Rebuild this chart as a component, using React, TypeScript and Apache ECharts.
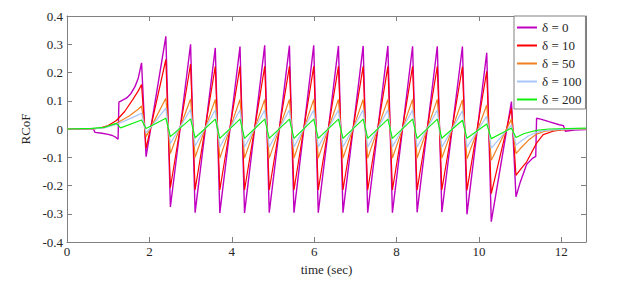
import React, { useEffect, useRef } from "react";
import * as echarts from "echarts";

// Shared cycle timing (seconds)
const peakTimes = [1.81, 2.4, 3.0, 3.6, 4.2, 4.8, 5.4, 5.99, 6.59, 7.19, 7.79, 8.39, 8.99, 9.6, 10.19, 10.79];
const troughTimes = [1.92, 2.51, 3.11, 3.71, 4.31, 4.91, 5.51, 6.1, 6.7, 7.3, 7.9, 8.5, 9.1, 9.71, 10.3, 10.9];

const seriesNames = ["δ = 0", "δ = 10", "δ = 50", "δ = 100", "δ = 200"];
const seriesColors = ["#c000c0", "#ff0000", "#f08020", "#a8c4f8", "#10f010"];

// δ = 0
const d0StartT = [0, 0.64, 0.68, 0.85, 1.0, 1.1, 1.18, 1.24, 1.26, 1.35, 1.45, 1.55, 1.65, 1.73];
const d0StartV = [0, 0, -0.012, -0.015, -0.019, -0.023, -0.029, -0.036, 0.095, 0.102, 0.11, 0.125, 0.15, 0.18];
const d0Peaks = [0.234, 0.328, 0.3, 0.287, 0.292, 0.296, 0.295, 0.296, 0.294, 0.294, 0.294, 0.293, 0.293, 0.292, 0.27, 0.097];
const d0Troughs = [-0.098, -0.276, -0.296, -0.297, -0.297, -0.296, -0.296, -0.296, -0.296, -0.296, -0.296, -0.295, -0.294, -0.302, -0.328, -0.24];
const d0EndT = [11.0, 11.16, 11.3, 11.38, 11.4, 11.5, 11.7, 11.95, 12.05, 12.1, 12.3, 12.6];
const d0EndV = [-0.19, -0.125, -0.104, -0.097, 0.038, 0.035, 0.026, 0.015, 0.012, -0.008, -0.004, -0.002];

// δ = 10
const d10StartT = [0, 0.6, 0.8, 1.0, 1.2, 1.4, 1.6, 1.73];
const d10StartV = [0, 0, 0.003, 0.012, 0.03, 0.062, 0.105, 0.135];
const d10Peaks = [0.157, 0.246, 0.23, 0.222, 0.222, 0.222, 0.222, 0.222, 0.222, 0.222, 0.222, 0.222, 0.222, 0.221, 0.204, 0.074];
const d10Troughs = [-0.069, -0.208, -0.215, -0.216, -0.216, -0.216, -0.216, -0.216, -0.216, -0.216, -0.216, -0.216, -0.216, -0.217, -0.229, -0.164];
const d10EndT = [11.0, 11.16, 11.4, 11.56, 11.8, 12.0, 12.6];
const d10EndV = [-0.145, -0.116, -0.05, -0.02, -0.008, -0.003, 0];

// δ = 50
const d50StartT = [0, 0.6, 0.9, 1.2, 1.5, 1.73];
const d50StartV = [0, 0, 0.005, 0.02, 0.045, 0.07];
const d50Peaks = [0.082, 0.109, 0.106, 0.105, 0.105, 0.105, 0.105, 0.105, 0.105, 0.105, 0.105, 0.105, 0.105, 0.103, 0.085, 0.035];
const d50Troughs = [-0.027, -0.087, -0.1, -0.103, -0.103, -0.103, -0.103, -0.103, -0.103, -0.103, -0.103, -0.103, -0.103, -0.106, -0.111, -0.087];
const d50EndT = [11.0, 11.2, 11.4, 11.6, 12.0, 12.6];
const d50EndV = [-0.07, -0.04, -0.018, -0.008, -0.002, 0];

// δ = 100
const d100StartT = [0, 0.6, 0.9, 1.2, 1.5, 1.73];
const d100StartV = [0, 0, 0.004, 0.016, 0.035, 0.05];
const d100Peaks = [0.056, 0.074, 0.07, 0.067, 0.067, 0.067, 0.067, 0.067, 0.067, 0.067, 0.067, 0.067, 0.067, 0.064, 0.045, 0.014];
const d100Troughs = [-0.015, -0.051, -0.06, -0.064, -0.064, -0.064, -0.064, -0.064, -0.064, -0.064, -0.064, -0.064, -0.064, -0.064, -0.068, -0.057];
const d100EndT = [11.0, 11.2, 11.4, 11.6, 12.0, 12.6];
const d100EndV = [-0.045, -0.025, -0.012, -0.005, -0.001, 0];

// δ = 200
const d200StartT = [0, 0.6, 0.9, 1.2, 1.3];
const d200StartV = [0, 0.002, 0.006, 0.02, 0.004];
const d200Peaks = [0.032, 0.038, 0.036, 0.035, 0.035, 0.035, 0.035, 0.035, 0.035, 0.035, 0.035, 0.035, 0.035, 0.031, 0.018, 0.003];
const d200Troughs = [0.002, -0.027, -0.031, -0.033, -0.033, -0.033, -0.033, -0.033, -0.033, -0.033, -0.033, -0.033, -0.033, -0.033, -0.034, -0.03];
const d200EndT = [11.1, 11.4, 11.7, 12.6];
const d200EndV = [-0.016, -0.005, 0.0, 0.003];

const xTicks = [0, 2, 4, 6, 8, 10, 12];

function buildSeries(
  startT: number[], startV: number[], peaks: number[], troughs: number[], endT: number[], endV: number[]
): number[][] {
  const out: number[][] = [];
  startT.forEach((t, i) => out.push([t, startV[i]]));
  peakTimes.forEach((t, i) => {
    out.push([t, peaks[i]]);
    out.push([troughTimes[i], troughs[i]]);
  });
  endT.forEach((t, i) => out.push([t, endV[i]]));
  return out;
}

const FONT = "Liberation Serif";

export default function App() {
  const ref = useRef<HTMLDivElement>(null);
  useEffect(() => {
    if (!ref.current) return;
    const chart = echarts.init(ref.current, undefined, { renderer: "svg" });
    const datasets = [
      buildSeries(d0StartT, d0StartV, d0Peaks, d0Troughs, d0EndT, d0EndV),
      buildSeries(d10StartT, d10StartV, d10Peaks, d10Troughs, d10EndT, d10EndV),
      buildSeries(d50StartT, d50StartV, d50Peaks, d50Troughs, d50EndT, d50EndV),
      buildSeries(d100StartT, d100StartV, d100Peaks, d100Troughs, d100EndT, d100EndV),
      buildSeries(d200StartT, d200StartV, d200Peaks, d200Troughs, d200EndT, d200EndV),
    ];
    const axisLine = { show: true, onZero: false, lineStyle: { color: "#808080", width: 1 } };
    const tick = { show: true, inside: true, length: 5, lineStyle: { color: "#808080" } };
    chart.setOption({
      animation: false,
      backgroundColor: "#ffffff",
      textStyle: { fontFamily: FONT },
      grid: { left: 67, right: 42, top: 16, bottom: 49, containLabel: false },
      legend: {
        orient: "vertical",
        left: 514,
        top: 16,
        padding: [4, 4, 2, 3],
        itemGap: 3,
        itemWidth: 20,
        itemHeight: 2,
        icon: "rect",
        backgroundColor: "#ffffff",
        borderColor: "#808080",
        borderWidth: 1,
        borderRadius: 0,
        textStyle: { fontFamily: FONT, fontSize: 13, color: "#262626", lineHeight: 15 },
        data: seriesNames,
      },
      xAxis: [
        {
          type: "value",
          min: 0,
          max: 12.6,
          interval: 2,
          position: "bottom",
          name: "time (sec)",
          nameLocation: "middle",
          nameGap: 17,
          nameTextStyle: { fontFamily: FONT, fontSize: 13, color: "#262626" },
          axisLine,
          axisTick: tick,
          splitLine: { show: false },
          axisLabel: {
            fontFamily: FONT,
            fontSize: 13,
            color: "#262626",
            margin: 3,
            formatter: (v: number) => (xTicks.includes(v) ? String(v) : ""),
          },
        },
        {
          type: "value",
          min: 0,
          max: 12.6,
          interval: 2,
          position: "top",
          axisLine,
          axisTick: tick,
          splitLine: { show: false },
          axisLabel: { show: false },
        },
      ],
      yAxis: [
        {
          type: "value",
          min: -0.4,
          max: 0.4,
          interval: 0.1,
          position: "left",
          name: "RCoF",
          nameLocation: "middle",
          nameGap: 18,
          nameRotate: 90,
          nameTextStyle: { fontFamily: FONT, fontSize: 13, color: "#262626" },
          axisLine,
          axisTick: tick,
          splitLine: { show: false },
          axisLabel: {
            fontFamily: FONT,
            fontSize: 13,
            color: "#262626",
            margin: 4,
            formatter: (v: number) => (Math.abs(v) < 1e-9 ? "0" : v.toFixed(1)),
          },
        },
        {
          type: "value",
          min: -0.4,
          max: 0.4,
          interval: 0.1,
          position: "right",
          axisLine,
          axisTick: tick,
          splitLine: { show: false },
          axisLabel: { show: false },
        },
      ],
      series: datasets.map((d, i) => ({
        name: seriesNames[i],
        type: "line",
        data: d,
        showSymbol: false,
        symbol: "none",
        color: seriesColors[i],
        lineStyle: { color: seriesColors[i], width: i === 0 ? 1.4 : 1.2 },
        z: 2 + i,
      })),
    });
    return () => chart.dispose();
  }, []);
  return <div ref={ref} style={{ width: 628, height: 291, margin: -8 }} />;
}
